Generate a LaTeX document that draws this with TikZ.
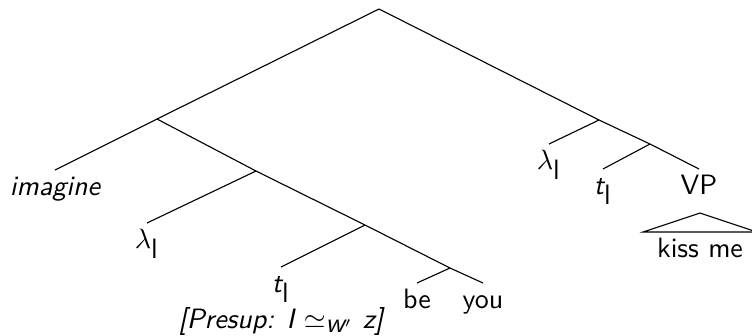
\documentclass[tikz,border=0pt]{standalone}
\usetikzlibrary{calc}
\begin{document}
\begin{tikzpicture}[x=0.357pt,y=-0.357pt,
  lbl/.style={anchor=north,inner sep=2pt,text height=7pt,text depth=2pt,font=\sffamily},
  branch/.style={draw=black,line width=0.4pt}]
\useasboundingbox (0,0) rectangle (752,335);
% internal nodes
\coordinate (root) at (379,9);
\coordinate (A) at (157,119);
\coordinate (B) at (256,171);
\coordinate (C) at (365,225);
\coordinate (D) at (450,268);
\coordinate (E) at (599,120);
\coordinate (F) at (650,144);
% leaves
\node[lbl] (imagine) at (55,170) {\itshape imagine};
\node[lbl] (lam1) at (147,223) {$\lambda_{\textsf{\upshape l}}$};
\node[lbl,text depth=0pt,inner ysep=2pt] (t1) at (281,267) {\itshape t$_{\textsf{\upshape l}}$};
\node[anchor=base,inner sep=0pt,font=\sffamily\itshape] (presup) at ($(t1.base)+(0,36)$) {[Presup: I $\simeq_{\textsf{\textit{w}}'}$ z]};
\node[lbl] (be) at (417,283) {be};
\node[lbl] (you) at (483,283) {you};
\node[lbl] (lam2) at (549,144) {$\lambda_{\textsf{\upshape l}}$};
\node[lbl] (t2) at (603,169) {\itshape t$_{\textsf{\upshape l}}$};
\node[lbl] (VP) at (699,169) {VP};
\coordinate (apex) at (700,213);
\coordinate (bl) at (643,232);
\coordinate (br) at (757,232);
\node[lbl] (kiss) at (700,232) {kiss me};
% branches
\draw[branch] (A) -- (root) -- (E);
\draw[branch] (imagine.north) -- (A) -- (B);
\draw[branch] (lam1.north) -- (B) -- (C);
\draw[branch] (t1.north) -- (C) -- (D);
\draw[branch] (be.north) -- (D) -- (you.north);
\draw[branch] (lam2.north) -- (E) -- (F);
\draw[branch] (t2.north) -- (F) -- (VP.north);
\draw[branch] (apex) -- (bl) -- (br) -- cycle;
\end{tikzpicture}
\end{document}
